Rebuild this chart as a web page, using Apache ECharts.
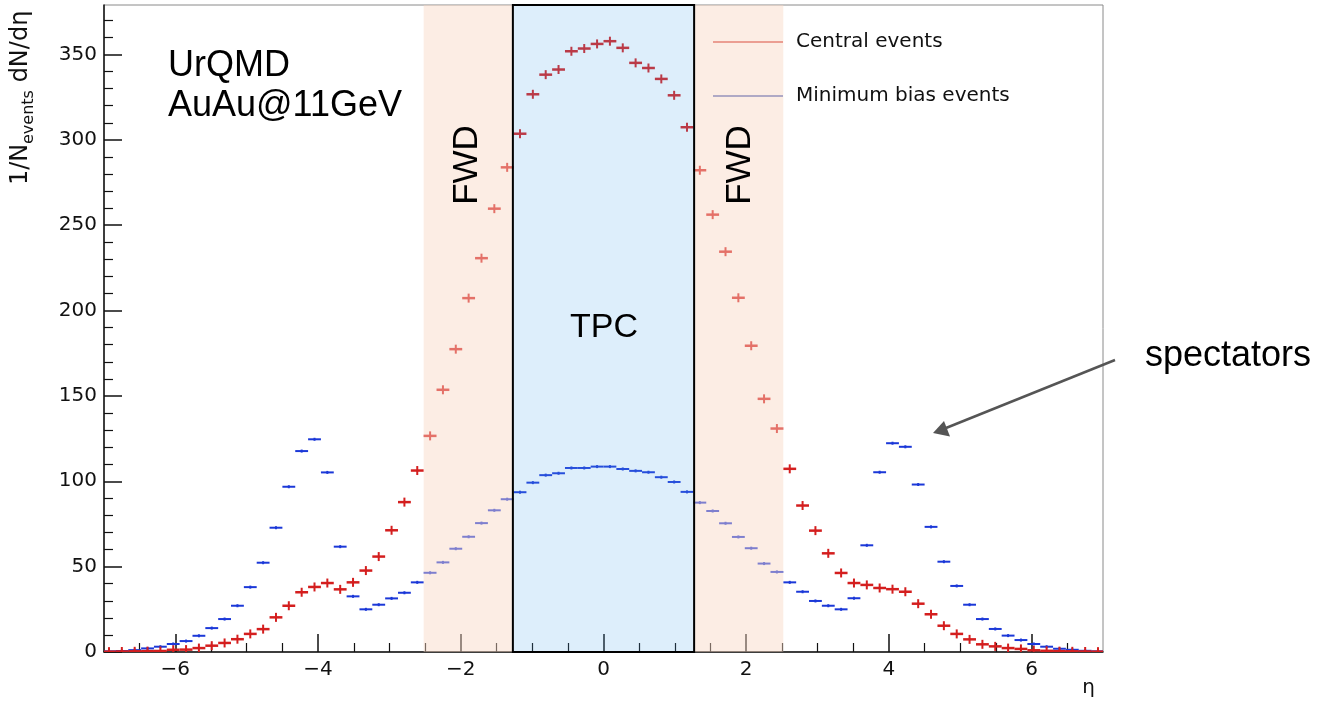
<!DOCTYPE html>
<html><head><meta charset="utf-8">
<script src="https://cdn.jsdelivr.net/npm/echarts@6/dist/echarts.min.js"></script>
<style>html,body{margin:0;padding:0;background:#fff}#c{width:1324px;height:703px}</style>
</head><body><div id="c"></div>
<script>
// histogram bin centres (eta), bin width 0.18
const etaCenters = [
  -6.93,-6.75,-6.57,-6.39,-6.21,-6.03,-5.85,-5.67,-5.49,-5.31,-5.13,-4.95,-4.77,-4.59,-4.41,-4.23,-4.05,-3.87,-3.69,-3.51,
  -3.33,-3.15,-2.97,-2.79,-2.61,-2.43,-2.25,-2.07,-1.89,-1.71,-1.53,-1.35,-1.17,-0.99,-0.81,-0.63,-0.45,-0.27,-0.09,
  0.09,0.27,0.45,0.63,0.81,0.99,1.17,1.35,1.53,1.71,1.89,2.07,2.25,2.43,2.61,2.79,2.97,3.15,3.33,3.51,
  3.69,3.87,4.05,4.23,4.41,4.59,4.77,4.95,5.13,5.31,5.49,5.67,5.85,6.03,6.21,6.39,6.57,6.75,6.93
];
const binWidth = 0.18;
const centralValues = [
  0.2,0.3,0.4,0.5,0.6,1.3,1.4,2.3,3.7,5.3,7.5,10.6,13.4,20.3,27.1,35,38.1,40.4,36.7,40.8,
  47.7,55.9,71.3,87.8,106.3,126.6,153.6,177.4,207.3,230.7,259.7,283.9,303.6,326.7,338.2,341.2,351.9,353.5,356.2,
  357.8,353.9,345.1,342.1,335.7,326.1,307.4,282.2,256.2,234.5,207.5,179.4,148.3,130.9,107.3,85.8,71.1,57.8,46.3,40.4,
  39.3,37.5,36.8,35.3,28.3,22.1,15.4,10.6,7.4,4.5,3.3,2.3,1.8,1.0,0.7,0.5,0.4,0.3,0.2
];
const minBiasValues = [
  0.4,0.6,1.1,2.1,3.1,4.7,6.4,9.5,14,19.3,27.1,38,52.3,72.8,96.8,117.7,124.6,105.2,61.7,32.6,
  25,27.7,31.4,34.7,40.8,46.4,52.5,60.5,67.5,75.5,83,89.5,93.6,99.2,103.6,104.7,107.8,107.8,108.6,
  108.6,107.2,106.1,105.3,102.4,99.6,93.8,87.5,82.6,75.4,67.4,60.8,51.8,46.9,40.8,35.3,29.9,27.1,25,31.5,
  62.5,105.3,122.3,120.2,98.1,73.3,52.9,38.7,27.7,19.3,13.5,9.6,7.0,4.7,3.1,1.9,1.3,0.7,0.4
];
const fwdRange = [-2.52, 2.52];
const tpcRange = [-1.27, 1.27];
const xMin = -7, xMax = 7, yMin = 0, yMax = 379;
const xMajorTicks = [-6,-4,-2,0,2,4,6];
const xMinorTicks = [-6.5,-5.5,-5,-4.5,-3.5,-3,-2.5,-1.5,-1,-0.5,0.5,1,1.5,2.5,3,3.5,4.5,5,5.5,6.5];
const yMajorTicks = [0,50,100,150,200,250,300,350];
const yMinorTicks = [10,20,30,40,60,70,80,90,110,120,130,140,160,170,180,190,210,220,230,240,260,270,280,290,310,320,330,340,360,370];

const chart = echarts.init(document.getElementById('c'), null, {renderer:'canvas'});

function histItem(color, vHalf, lw) {
  return function (params, api) {
    const x = api.value(0), y = api.value(1);
    const p1 = api.coord([x - binWidth / 2, y]);
    const p2 = api.coord([x + binWidth / 2, y]);
    const c = api.coord([x, y]);
    return { type: 'group', children: [
      { type: 'line', shape: { x1: p1[0], y1: p1[1], x2: p2[0], y2: p2[1] }, style: { stroke: color, lineWidth: lw } },
      { type: 'line', shape: { x1: c[0], y1: c[1] - vHalf, x2: c[0], y2: c[1] + vHalf }, style: { stroke: color, lineWidth: 2 } }
    ]};
  };
}

const bandData = [
  [fwdRange[0], tpcRange[0], 0],
  [tpcRange[1], fwdRange[1], 0],
  [tpcRange[0], tpcRange[1], 1]
];

const fmtX = v => (v < 0 ? '\u2212' + (-v) : String(v));

const option = {
  backgroundColor: '#fff',
  animation: false,
  grid: { left: 104, right: 221, top: 5, bottom: 51, show: true, borderColor: '#8a8a8a', borderWidth: 1, backgroundColor: 'transparent' },
  xAxis: [
    { type: 'value', min: xMin, max: xMax, position: 'bottom',
      axisLine: { show: true, onZero: false, lineStyle: { color: '#111', width: 1.5 } },
      axisTick: { show: true, inside: true, length: 18, customValues: xMajorTicks, lineStyle: { color: '#111', width: 1.5 } },
      axisLabel: { customValues: xMajorTicks, formatter: fmtX, color: '#111', fontFamily: 'DejaVu Sans', fontSize: 20, margin: 8 },
      splitLine: { show: false },
      name: '\u03b7', nameLocation: 'end', nameGap: -8,
      nameTextStyle: { fontFamily: 'DejaVu Sans', fontSize: 20, color: '#111', align: 'right', verticalAlign: 'top', padding: [26, 0, 0, 0] } },
    { type: 'value', min: xMin, max: xMax, position: 'bottom',
      axisLine: { show: false, onZero: false },
      axisTick: { show: true, inside: true, length: 9, customValues: xMinorTicks, lineStyle: { color: '#111', width: 1.2 } },
      axisLabel: { show: false }, splitLine: { show: false } }
  ],
  yAxis: [
    { type: 'value', min: yMin, max: yMax, position: 'left',
      axisLine: { show: true, onZero: false, lineStyle: { color: '#111', width: 1.5 } },
      axisTick: { show: true, inside: true, length: 18, customValues: yMajorTicks, lineStyle: { color: '#111', width: 1.5 } },
      axisLabel: { customValues: yMajorTicks, color: '#111', fontFamily: 'DejaVu Sans', fontSize: 20, margin: 7 },
      splitLine: { show: false } },
    { type: 'value', min: yMin, max: yMax, position: 'left',
      axisLine: { show: false, onZero: false },
      axisTick: { show: true, inside: true, length: 9, customValues: yMinorTicks, lineStyle: { color: '#111', width: 1.2 } },
      axisLabel: { show: false }, splitLine: { show: false } }
  ],
  legend: {
    orient: 'vertical', left: 713, top: 30, padding: 0, itemWidth: 70, itemHeight: 2, itemGap: 30, icon: 'rect', selectedMode: false,
    textStyle: { fontFamily: 'DejaVu Sans', fontSize: 20, color: '#111', padding: [0, 0, 0, 8], lineHeight: 24 },
    data: [
      { name: 'Central events', itemStyle: { color: '#E0706A' } },
      { name: 'Minimum bias events', itemStyle: { color: '#7383C6' } }
    ]
  },
  series: [
    { name: 'Minimum bias events', type: 'custom', xAxisIndex: 0, yAxisIndex: 0, z: 2, clip: true,
      itemStyle: { color: '#1B38D8' },
      data: etaCenters.map((x, i) => [x, minBiasValues[i]]),
      renderItem: histItem('#1B38D8', 1.5, 2) },
    { name: 'Central events', type: 'custom', xAxisIndex: 0, yAxisIndex: 0, z: 3, clip: true,
      itemStyle: { color: '#D41E1E' },
      data: etaCenters.map((x, i) => [x, centralValues[i]]),
      renderItem: histItem('#D41E1E', 4.5, 2.5) },
    { name: 'bands', type: 'custom', xAxisIndex: 0, yAxisIndex: 0, z: 5, silent: true,
      data: bandData,
      renderItem: function (params, api) {
        const a = api.coord([api.value(0), yMax]);
        const b = api.coord([api.value(1), yMin]);
        const isTpc = api.value(2) === 1;
        return { type: 'rect',
          shape: { x: a[0], y: a[1], width: b[0] - a[0], height: b[1] - a[1] },
          style: isTpc
            ? { fill: 'rgba(85,170,235,0.2)', stroke: '#000', lineWidth: 2 }
            : { fill: 'rgba(248,215,195,0.45)' } };
      } }
  ],
  graphic: [
    { type: 'text', left: 168, top: 48, z: 100, style: { text: 'UrQMD', font: '36px "Liberation Sans"', fill: '#000' } },
    { type: 'text', left: 168, top: 88, z: 100, style: { text: 'AuAu@11GeV', font: '36px "Liberation Sans"', fill: '#000' } },
    { type: 'text', x: 467, y: 165, rotation: Math.PI / 2, z: 100, style: { text: 'FWD', font: '35px "Liberation Sans"', fill: '#000', align: 'center', verticalAlign: 'middle' } },
    { type: 'text', x: 740, y: 165, rotation: Math.PI / 2, z: 100, style: { text: 'FWD', font: '35px "Liberation Sans"', fill: '#000', align: 'center', verticalAlign: 'middle' } },
    { type: 'text', x: 604, y: 328, z: 100, style: { text: 'TPC', font: '34px "Liberation Sans"', fill: '#000', align: 'center', verticalAlign: 'middle' } },
    { type: 'text', x: 1228, y: 356, z: 100, style: { text: 'spectators', font: '36px "Liberation Sans"', fill: '#000', align: 'center', verticalAlign: 'middle' } },
    { type: 'line', z: 100, shape: { x1: 1115, y1: 360, x2: 946, y2: 428 }, style: { stroke: '#555', lineWidth: 2.5 } },
    { type: 'polygon', z: 100, shape: { points: [[933, 433], [950, 436.5], [944, 421]] }, style: { fill: '#555' } },
    { type: 'group', x: 21, y: 185, rotation: Math.PI / 2, z: 100, children: [
      { type: 'text', x: 0, y: 0, style: { text: '1/N', font: '24px "DejaVu Sans"', fill: '#111', align: 'left', verticalAlign: 'middle' } },
      { type: 'text', x: 41, y: 8, style: { text: 'events', font: '16px "DejaVu Sans"', fill: '#111', align: 'left', verticalAlign: 'middle' } },
      { type: 'text', x: 95, y: 0, style: { text: ' dN/d\u03b7', font: '24px "DejaVu Sans"', fill: '#111', align: 'left', verticalAlign: 'middle' } }
    ] }
  ]
};
chart.setOption(option);
</script>
</body></html>
